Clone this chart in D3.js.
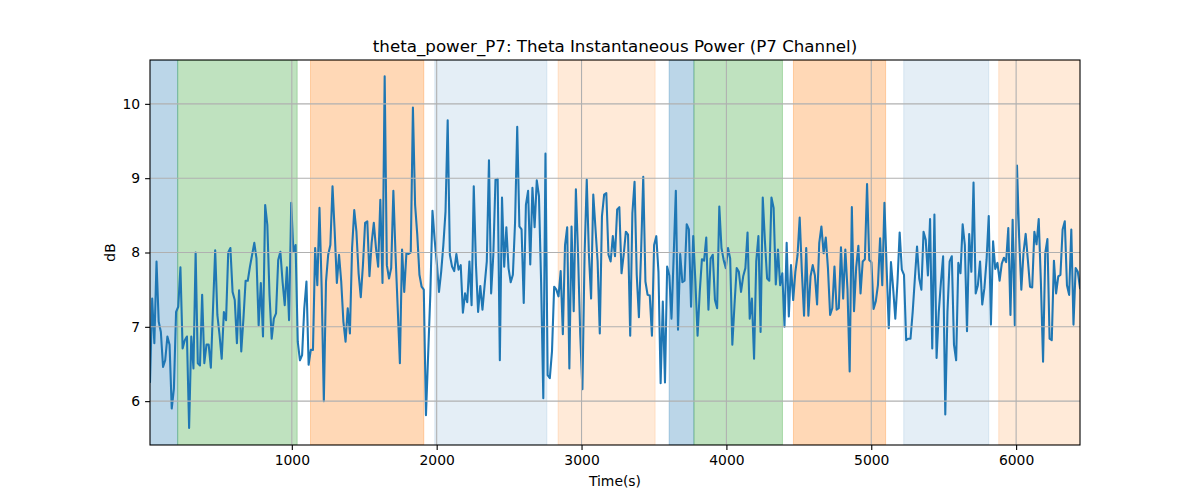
<!DOCTYPE html>
<html><head><meta charset="utf-8">
<script src="https://cdn.jsdelivr.net/npm/d3@7"></script>
<style>body{margin:0;background:#fff;} svg{display:block;font-family:"DejaVu Sans",sans-serif;}</style>
</head><body><div id="chart"></div>
<script>
const title = "theta_power_P7: Theta Instantaneous Power (P7 Channel)";
const xLabel = "Time(s)";
const yLabel = "dB";
const xTicks = [1000, 2000, 3000, 4000, 5000, 6000];
const yTicks = [6, 7, 8, 9, 10];
const tStart = 21, tStep = 15;
const power = [
6.26,7.38,6.78,7.88,7.07,6.93,6.46,6.55,6.87,6.76,5.90,6.17,7.20,7.27,7.80,6.71,6.82,6.87,5.64,6.87,
6.44,8.0,6.51,6.48,7.43,6.51,6.76,6.76,6.45,7.25,8.03,7.16,6.89,6.57,7.20,7.09,8.0,8.06,7.47,7.36,
6.78,7.49,6.67,7.11,7.62,7.62,7.81,7.97,8.13,7.92,7.02,7.59,6.87,
8.64,8.37,7.43,6.84,7.11,7.18,7.90,8.01,7.61,7.29,7.80,7.09,8.67,8.01,8.10,6.80,6.55,6.62,7.25,7.61,
6.49,6.69,6.69,8.06,7.56,8.60,7.52,6.0,7.61,7.97,8.10,8.89,8.28,7.59,7.97,7.61,7.07,6.80,7.25,6.91,
8.06,8.57,8.28,7.72,7.40,7.83,8.40,8.42,7.68,8.13,8.40,8.06,7.81,
8.71,7.59,10.37,7.83,7.65,7.79,8.83,7.97,7.25,6.51,8.04,7.47,7.99,7.98,8.0,9.95,8.64,8.24,7.70,7.54,
7.50,5.81,6.62,7.43,8.56,8.17,7.86,7.47,7.74,8.10,8.55,9.78,7.97,7.81,7.75,7.98,7.77,7.83,7.19,7.45,
7.33,7.88,7.29,8.89,7.84,7.20,7.55,7.23,7.56,7.88,9.24,7.45,7.97,
8.98,8.99,6.55,8.74,7.81,8.34,7.79,7.60,7.70,8.4,9.69,8.35,8.31,7.32,8.64,8.83,7.84,8.87,8.34,8.97,
8.76,7.6,6.04,9.33,6.35,6.31,6.67,7.54,7.50,7.41,7.75,6.90,8.10,8.34,6.44,8.35,7.21,8.85,7.97,6.9,
6.16,7.97,8.98,7.97,7.38,8.78,8.33,7.88,6.91,8.49,8.78,8.80,7.97,
7.88,8.22,7.95,8.58,8.61,7.72,7.97,8.28,8.24,6.88,8.53,8.95,7.7,7.13,8.0,9.02,7.61,7.43,7.42,6.88,
8.10,8.22,7.74,6.24,7.34,6.25,7.81,7.69,7.11,7.95,8.83,6.96,7.98,7.60,7.62,8.38,8.31,7.27,8.22,7.61,
6.88,7.47,7.91,7.89,8.20,7.23,7.92,7.97,7.36,7.25,8.62,8.06,7.90,
7.79,8.06,7.92,6.76,7.3,7.79,7.74,7.47,7.68,7.79,8.27,7.11,7.38,6.57,7.88,8.22,6.93,8.74,8.15,7.65,
7.62,8.74,8.60,7.57,8.04,7.56,7.72,7.0,8.13,7.14,7.83,7.36,7.74,7.96,8.47,7.74,7.15,8.06,7.15,7.68,
7.83,7.69,7.30,8.13,8.35,7.99,8.20,7.79,7.16,7.25,7.81,7.23,7.25,
8.07,7.38,8.04,7.5,6.40,8.61,7.21,7.8,8.09,7.45,7.88,7.91,8.92,7.90,7.87,7.24,7.34,7.56,8.19,7.56,
8.67,7.8,6.98,7.87,7.52,7.11,7.6,8.27,7.77,7.70,6.82,6.84,6.84,7.2,7.65,8.08,7.65,7.50,8.28,8.17,
7.69,8.45,6.71,8.51,6.58,7.2,7.6,7.95,5.82,7.2,7.88,7.95,6.76,
6.55,7.86,7.72,8.38,8.1,6.94,8.25,7.74,8.94,7.45,7.56,7.88,7.30,7.52,7.9,8.49,7.03,8.15,7.78,7.86,
7.62,7.85,7.93,7.87,8.33,7.16,8.44,7.02,9.17,8.2,7.50,8.0,8.25,7.9,7.54,7.53,8.28,8.11,8.45,7.6,
6.53,7.99,8.18,6.84,6.82,7.89,7.45,7.68,7.70,8.31,8.42,7.56,7.43,8.31,7.03,7.79,7.74,7.52
];
const spanStart = [0, 212, 1129, 1987, 2838, 3605, 3776, 4463, 5224, 5880];
const spanEnd   = [212, 1037, 1911, 2761, 3508, 3776, 4387, 5099, 5811, 6500];
const spanColor = ["#1f77b4","#2ca02c","#ff7f0e","#1f77b4","#ff7f0e","#1f77b4","#2ca02c","#ff7f0e","#1f77b4","#ff7f0e"];
const spanAlpha = [0.3,0.3,0.3,0.12,0.16,0.3,0.3,0.3,0.12,0.16];

const W = 1200, H = 500;
const m = {left:150, right:1080, top:60, bottom:445};
const times = power.map((_, i) => tStart + i * tStep);
const x = d3.scaleLinear().domain([times[0], times[times.length-1]]).range([m.left, m.right]);
const y = d3.scaleLinear().domain([5.41, 10.59]).range([m.bottom, m.top]);

const svg = d3.select("#chart").append("svg").attr("width", W).attr("height", H);
svg.append("defs").append("clipPath").attr("id","clip").append("rect")
  .attr("x", m.left).attr("y", m.top).attr("width", m.right-m.left).attr("height", m.bottom-m.top);

const plot = svg.append("g").attr("clip-path","url(#clip)");
plot.selectAll("rect.span").data(spanStart).join("rect")
  .attr("x", (d,i) => x(d)).attr("width", (d,i) => x(spanEnd[i]) - x(d))
  .attr("y", m.top).attr("height", m.bottom - m.top)
  .attr("fill", (d,i) => spanColor[i]).attr("fill-opacity", (d,i) => spanAlpha[i])
  .attr("stroke", (d,i) => spanColor[i]).attr("stroke-opacity", (d,i) => spanAlpha[i]).attr("stroke-width", 1);

// grid
const grid = svg.append("g");
grid.selectAll("line.gx").data(xTicks).join("line")
  .attr("x1", d => x(d)).attr("x2", d => x(d)).attr("y1", m.top).attr("y2", m.bottom)
  .attr("stroke", "#b0b0b0").attr("stroke-width", 1.1);
grid.selectAll("line.gy").data(yTicks).join("line")
  .attr("y1", d => y(d)).attr("y2", d => y(d)).attr("x1", m.left).attr("x2", m.right)
  .attr("stroke", "#b0b0b0").attr("stroke-width", 1.1);

plot.append("path").datum(power)
  .attr("d", d3.line().x((d,i) => x(times[i])).y(d => y(d)))
  .attr("fill","none").attr("stroke","#1f77b4").attr("stroke-width",2.08)
  .attr("stroke-linejoin","round").attr("stroke-linecap","square");

// axes
const xAxis = d3.axisBottom(x).tickValues(xTicks).tickSize(4.9).tickPadding(4.9).tickFormat(d3.format("d"));
const yAxis = d3.axisLeft(y).tickValues(yTicks).tickSize(4.9).tickPadding(4.9).tickFormat(d3.format("d"));
const gx = svg.append("g").attr("transform", `translate(0,${m.bottom})`).call(xAxis);
const gy = svg.append("g").attr("transform", `translate(${m.left},0)`).call(yAxis);
[gx, gy].forEach(g => {
  g.select(".domain").remove();
  g.selectAll(".tick line").attr("stroke","#000").attr("stroke-width",1.1);
  g.selectAll(".tick text").attr("fill","#000").style("font-size","13.9px").style("font-family","DejaVu Sans");
});

svg.append("rect").attr("x", m.left).attr("y", m.top).attr("width", m.right-m.left).attr("height", m.bottom-m.top)
  .attr("fill","none").attr("stroke","#000").attr("stroke-width",1.1);

svg.append("text").attr("x", (m.left+m.right)/2).attr("y", 52).attr("text-anchor","middle")
  .style("font-size","16.7px").text(title);
svg.append("text").attr("x", (m.left+m.right)/2).attr("y", 486).attr("text-anchor","middle")
  .style("font-size","13.9px").text(xLabel);
svg.append("text").attr("transform", `translate(115,${(m.top+m.bottom)/2}) rotate(-90)`).attr("text-anchor","middle")
  .style("font-size","13.9px").text(yLabel);
</script></body></html>
